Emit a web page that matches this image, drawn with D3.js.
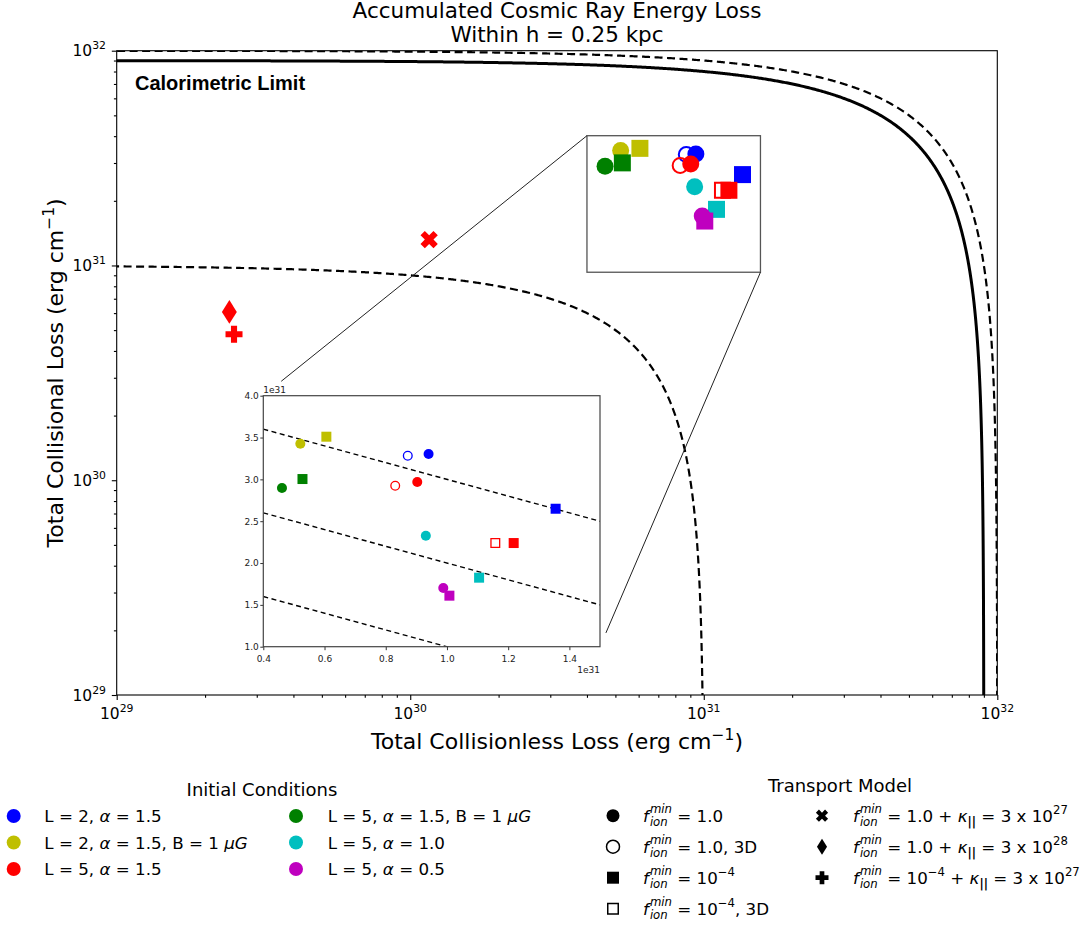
<!DOCTYPE html>
<meta charset="utf-8">
<script src="https://cdn.jsdelivr.net/npm/d3@7"></script>
<body style="margin:0;background:#fff">
<script>

// initial conditions (colour legend)
var condColors = ["#0000ff", "#bfbf00", "#ff0000", "#008000", "#00bfbf", "#bf00bf"]
var condLabels = [
  [{t: "L = 2, "}, {t: "α", i: 1}, {t: " = 1.5"}],
  [{t: "L = 2, "}, {t: "α", i: 1}, {t: " = 1.5, B = 1 "}, {t: "μG", i: 1}],
  [{t: "L = 5, "}, {t: "α", i: 1}, {t: " = 1.5"}],
  [{t: "L = 5, "}, {t: "α", i: 1}, {t: " = 1.5, B = 1 "}, {t: "μG", i: 1}],
  [{t: "L = 5, "}, {t: "α", i: 1}, {t: " = 1.0"}],
  [{t: "L = 5, "}, {t: "α", i: 1}, {t: " = 0.5"}],
]

// transport models (marker legend)
var modelShapes = ["circle", "circle", "square", "square", "x", "diamond", "plus"]
var modelFilled = [true, false, true, false, true, true, true]
var fIon = [{t: "f", i: 1}, {t: "min", i: 1, s: 1, dy: -9, gap: 1}, {t: "ion", i: 1, s: 1, dy: 4, stack: 1}]
var kPar = [{t: "κ", i: 1}, {t: "||", s: 1, dy: 4, b: 1}]
var modelLabels = [
  fIon.concat([{t: " = 1.0"}]),
  fIon.concat([{t: " = 1.0, 3D"}]),
  fIon.concat([{t: " = 10"}, {t: "−4", s: 1, dy: -8}]),
  fIon.concat([{t: " = 10"}, {t: "−4", s: 1, dy: -8}, {t: ", 3D"}]),
  fIon.concat([{t: " = 1.0 + "}], kPar, [{t: " = 3 x 10"}, {t: "27", s: 1, dy: -8}]),
  fIon.concat([{t: " = 1.0 + "}], kPar, [{t: " = 3 x 10"}, {t: "28", s: 1, dy: -8}]),
  fIon.concat([{t: " = 10"}, {t: "−4", s: 1, dy: -8}, {t: " + "}], kPar, [{t: " = 3 x 10"}, {t: "27", s: 1, dy: -8}]),
]

// runs: losses in units of 1e31 erg/cm
var runCond  = [0, 0, 0, 1, 1, 2, 2, 2, 2, 2, 2, 2, 3, 3, 4, 4, 5, 5]
var runModel = [1, 0, 2, 0, 2, 1, 0, 3, 2, 4, 5, 6, 0, 2, 0, 2, 0, 2]
var runX = [0.872, 0.940, 1.355, 0.521, 0.606, 0.831, 0.903, 1.158, 1.218, 0.116, 0.0242, 0.0251, 0.461, 0.528, 0.931, 1.105, 0.988, 1.008]
var runY = [3.283, 3.303, 2.649, 3.426, 3.510, 2.924, 2.968, 2.239, 2.239, 1.32, 0.608, 0.478, 2.896, 3.004, 2.327, 1.825, 1.701, 1.610]

// constant total-loss curves (1e31 erg/cm)
var limitTotals = [1, 9, 10]
var limitDashed = [true, false, true]
var insetTotals = [2, 3, 4]

// axes
var majorExp = [29, 30, 31, 32]
var insetXTicks = [0.4, 0.6, 0.8, 1.0, 1.2, 1.4]
var insetYTicks = [1.0, 1.5, 2.0, 2.5, 3.0, 3.5, 4.0]
var insetXDom = [0.4, 1.5]
var insetYDom = [1.0, 4.0]
var boxX = [0.4, 1.56]
var boxY = [0.93, 4.02]

var W = 1091, H = 928
var svg = d3.select("body").append("svg")
  .attr("width", W).attr("height", H)
  .style("font-family", "'DejaVu Sans', sans-serif")
  .style("display", "block")
svg.append("rect").attr("width", W).attr("height", H).attr("fill", "#fff")

var L = 116.7, R = 997.3, T = 50.7, B = 695
var x = d3.scaleLog().domain([1e29, 1e32]).range([L, R])
var y = d3.scaleLog().domain([1e29, 1e32]).range([B, T])
var ix = d3.scaleLinear().domain(insetXDom).range([263.3, 600])
var iy = d3.scaleLinear().domain(insetYDom).range([646.7, 395.7])

function markerPath(shape, s) {
  if (shape == "circle") return d3.symbol(d3.symbolCircle, Math.PI * s * s / 4)()
  if (shape == "square") return d3.symbol(d3.symbolSquare, s * s)()
  if (shape == "diamond") return "M0," + (-s * 0.7) + "L" + (s * 0.44) + ",0L0," + (s * 0.7) + "L" + (-s * 0.44) + ",0Z"
  var h = shape == "x" ? s * 0.54 : s * 0.5, a = s * 0.18
  var p = [[-a,-h],[a,-h],[a,-a],[h,-a],[h,a],[a,a],[a,h],[-a,h],[-a,a],[-h,a],[-h,-a],[-a,-a]]
  return "M" + p.join("L") + "Z"
}

function marker(g, shape, filled, color, cx, cy, s, sw) {
  g.append("path")
    .attr("d", markerPath(shape, filled ? s : s - sw))
    .attr("transform", "translate(" + cx + "," + cy + ")" + (shape == "x" ? " rotate(45)" : ""))
    .attr("fill", filled ? color : "none")
    .attr("stroke", filled ? "none" : color)
    .attr("stroke-width", sw)
}

// text made of pieces, with super/subscripts
function rich(g, x0, y0, segs, size) {
  var cx = x0, sx = x0, sw = 0
  segs.forEach(function(s) {
    var t = g.append("text").attr("xml:space", "preserve")
      .attr("y", y0 + (s.dy || 0))
      .style("font-size", (s.s ? size * 0.7 : size) + "px")
      .style("font-style", s.i ? "italic" : null)
      .style("font-weight", s.b ? "bold" : null)
      .text(s.t)
    if (s.stack) {
      t.attr("x", sx)
      cx = sx + Math.max(sw, t.node().getComputedTextLength())
    } else {
      cx += s.gap || 0
      t.attr("x", cx)
      sx = cx; sw = t.node().getComputedTextLength(); cx += sw
    }
  })
}

function powLabel(sel, e, size) {
  sel.append("tspan").text("10")
  sel.append("tspan").attr("dy", -size * 0.45).style("font-size", (size * 0.7) + "px").text(e)
}

// clip for main plot
svg.append("clipPath").attr("id", "clipMain").append("rect")
  .attr("x", L).attr("y", T).attr("width", R - L).attr("height", B - T)

// curves x + y = C
var ts = d3.range(-5, Math.log10(0.5), 0.004).map(function(u) { return Math.pow(10, u) })
var tAll = ts.concat(ts.slice().reverse().map(function(t) { return 1 - t }))
var curve = d3.line().x(function(d) { return x(d[0]) }).y(function(d) { return y(d[1]) })
limitTotals.forEach(function(c, k) {
  var C = c * 1e31
  svg.append("path")
    .attr("clip-path", "url(#clipMain)")
    .attr("d", curve(tAll.map(function(t) { return [C * t, C * (1 - t)] })))
    .attr("fill", "none").attr("stroke", "#000")
    .attr("stroke-width", limitDashed[k] ? 2.2 : 3)
    .attr("stroke-dasharray", limitDashed[k] ? "8,4.5" : null)
})

// main axes
var minors = []
majorExp.slice(0, 3).forEach(function(e) {
  for (var k = 2; k < 10; k++) minors.push(k * Math.pow(10, e))
})
var majors = majorExp.map(function(e) { return Math.pow(10, e) })

function styleAxis(g) {
  g.select(".domain").remove()
  g.selectAll("line").attr("stroke", "#000").attr("stroke-width", 1.1)
}
svg.append("g").attr("transform", "translate(0," + B + ")")
  .call(d3.axisBottom(x).tickValues(majors).tickSize(4.9).tickFormat("")).call(styleAxis)
svg.append("g").attr("transform", "translate(0," + B + ")")
  .call(d3.axisBottom(x).tickValues(minors).tickSize(2.8).tickFormat("")).call(styleAxis)
svg.append("g").attr("transform", "translate(" + L + ",0)")
  .call(d3.axisLeft(y).tickValues(majors).tickSize(4.9).tickFormat("")).call(styleAxis)
svg.append("g").attr("transform", "translate(" + L + ",0)")
  .call(d3.axisLeft(y).tickValues(minors).tickSize(2.8).tickFormat("")).call(styleAxis)

svg.append("g").selectAll("text").data(majorExp).join("text")
  .attr("x", function(e) { return x(Math.pow(10, e)) }).attr("y", 719)
  .attr("text-anchor", "middle").style("font-size", "15.5px")
  .each(function(e) { powLabel(d3.select(this), e, 15.5) })
svg.append("g").selectAll("text").data(majorExp).join("text")
  .attr("x", 106).attr("y", function(e) { return y(Math.pow(10, e)) + 5.5 })
  .attr("text-anchor", "end").style("font-size", "15.5px")
  .each(function(e) { powLabel(d3.select(this), e, 15.5) })

svg.append("rect").attr("x", L).attr("y", T).attr("width", R - L).attr("height", B - T)
  .attr("fill", "none").attr("stroke", "#000").attr("stroke-width", 1.1)

// axis titles
var xt = svg.append("text").attr("x", (L + R) / 2).attr("y", 749)
  .attr("text-anchor", "middle").style("font-size", "22px")
xt.append("tspan").text("Total Collisionless Loss (erg cm")
xt.append("tspan").attr("dy", -9).style("font-size", "15.5px").text("−1")
xt.append("tspan").attr("dy", 9).text(")")

var yt = svg.append("text").attr("transform", "translate(62.5," + (T + B) / 2 + ") rotate(-90)")
  .attr("text-anchor", "middle").style("font-size", "22px")
yt.append("tspan").text("Total Collisional Loss (erg cm")
yt.append("tspan").attr("dy", -9).style("font-size", "15.5px").text("−1")
yt.append("tspan").attr("dy", 9).text(")")

// title
svg.append("text").attr("x", (L + R) / 2).attr("y", 18).attr("text-anchor", "middle")
  .style("font-size", "21.5px").text("Accumulated Cosmic Ray Energy Loss")
svg.append("text").attr("x", (L + R) / 2).attr("y", 41.5).attr("text-anchor", "middle")
  .style("font-size", "21.5px").text("Within h = 0.25 kpc")

svg.append("text").attr("x", 135).attr("y", 90)
  .style("font-family", "'Liberation Sans', Arial, sans-serif")
  .style("font-weight", "bold").style("font-size", "20px").text("Calorimetric Limit")

// zoom box and connectors
var bx0 = x(boxX[0] * 1e31), bx1 = x(boxX[1] * 1e31)
var by0 = y(boxY[1] * 1e31), by1 = y(boxY[0] * 1e31)
svg.append("rect").attr("x", bx0).attr("y", by0).attr("width", bx1 - bx0).attr("height", by1 - by0)
  .attr("fill", "none").attr("stroke", "#555").attr("stroke-width", 1.3)

function connector(x1, y1, x2, y2, shrink) {
  var d = Math.hypot(x2 - x1, y2 - y1)
  var ex = x2 - (x2 - x1) * shrink / d, ey = y2 - (y2 - y1) * shrink / d
  svg.append("line").attr("x1", x1).attr("y1", y1).attr("x2", ex).attr("y2", ey)
    .attr("stroke", "#222").attr("stroke-width", 1)
}
connector(bx0, by0, ix.range()[0], iy.range()[1], 23)
connector(bx1, by1, ix.range()[1], iy.range()[0], 15)

// main markers
var gm = svg.append("g")
runX.forEach(function(v, k) {
  var m = runModel[k]
  marker(gm, modelShapes[m], modelFilled[m], condColors[runCond[k]], x(v * 1e31), y(runY[k] * 1e31), 17, 2)
})

// inset
var gi = svg.append("g")
svg.append("clipPath").attr("id", "clipInset").append("rect")
  .attr("x", ix.range()[0]).attr("y", iy.range()[1])
  .attr("width", ix.range()[1] - ix.range()[0]).attr("height", iy.range()[0] - iy.range()[1])
gi.append("rect").attr("x", ix.range()[0]).attr("y", iy.range()[1])
  .attr("width", ix.range()[1] - ix.range()[0]).attr("height", iy.range()[0] - iy.range()[1])
  .attr("fill", "#fff")
insetTotals.forEach(function(c) {
  gi.append("line").attr("clip-path", "url(#clipInset)")
    .attr("x1", ix(insetXDom[0])).attr("y1", iy(c - insetXDom[0]))
    .attr("x2", ix(insetXDom[1])).attr("y2", iy(c - insetXDom[1]))
    .attr("stroke", "#000").attr("stroke-width", 1.4).attr("stroke-dasharray", "5,3.5")
})
runX.forEach(function(v, k) {
  if (v < insetXDom[0] || v > insetXDom[1] || runY[k] < insetYDom[0] || runY[k] > insetYDom[1]) return
  var m = runModel[k]
  marker(gi, modelShapes[m], modelFilled[m], condColors[runCond[k]], ix(v), iy(runY[k]), 10, 1.3)
})
function styleInset(g) {
  g.select(".domain").remove()
  g.selectAll("line").attr("stroke", "#333").attr("stroke-width", 1)
  g.selectAll("text").attr("fill", "#222").style("font-size", "9px").style("font-family", "'DejaVu Sans', sans-serif")
}
gi.append("g").attr("transform", "translate(0," + iy.range()[0] + ")")
  .call(d3.axisBottom(ix).tickValues(insetXTicks).tickSize(3.5).tickPadding(5).tickFormat(d3.format(".1f")))
  .call(styleInset)
gi.append("g").attr("transform", "translate(" + ix.range()[0] + ",0)")
  .call(d3.axisLeft(iy).tickValues(insetYTicks).tickSize(3).tickPadding(1.5).tickFormat(d3.format(".1f")))
  .call(styleInset)
gi.append("rect").attr("x", ix.range()[0]).attr("y", iy.range()[1])
  .attr("width", ix.range()[1] - ix.range()[0]).attr("height", iy.range()[0] - iy.range()[1])
  .attr("fill", "none").attr("stroke", "#444").attr("stroke-width", 1.2)
gi.append("text").attr("x", ix.range()[0]).attr("y", 393).style("font-size", "9px").attr("fill", "#222").text("1e31")
gi.append("text").attr("x", ix.range()[1]).attr("y", 673).attr("text-anchor", "end")
  .style("font-size", "9px").attr("fill", "#222").text("1e31")

// legend: initial conditions
var lg1 = svg.append("g")
lg1.append("text").attr("x", 262).attr("y", 795.5).attr("text-anchor", "middle")
  .style("font-size", "18px").text("Initial Conditions")
condLabels.forEach(function(segs, k) {
  var col = Math.floor(k / 3), row = k % 3
  var cy = 816 + row * 26.5
  marker(lg1, "circle", true, condColors[k], [13.7, 296][col], cy, 14, 1)
  rich(lg1, [44.3, 327.7][col], cy + 6, segs, 16.7)
})

// legend: transport model
var lg2 = svg.append("g")
lg2.append("text").attr("x", 840).attr("y", 791.5).attr("text-anchor", "middle")
  .style("font-size", "18px").text("Transport Model")
var legSize = {circle: 13, square: 12, x: 12, diamond: 11.5, plus: 13}
modelLabels.forEach(function(segs, k) {
  var col = k < 4 ? 0 : 1, row = k < 4 ? k : k - 4
  var cy = 815.7 + row * 31
  var sh = modelShapes[k]
  marker(lg2, sh, modelFilled[k], "#000", [613, 822][col], cy, sh == "circle" && !modelFilled[k] ? 14.5 : legSize[sh], 1.5)
  rich(lg2, [643, 853][col], cy + 6, segs, 16.7)
})

</script>
</body>
